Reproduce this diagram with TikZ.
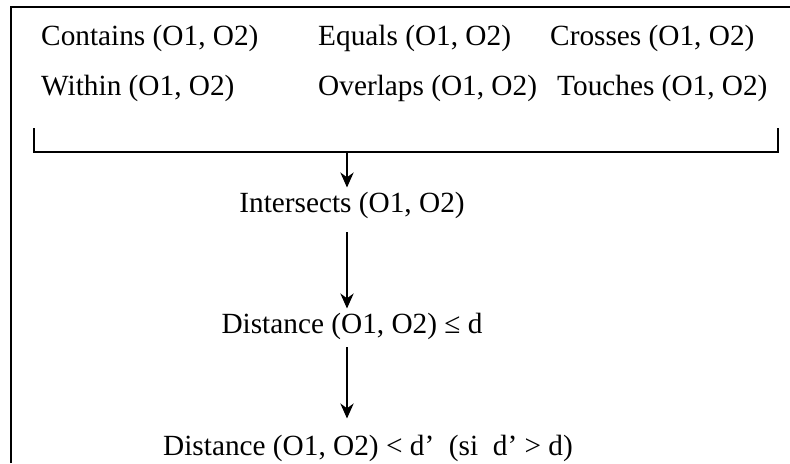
\documentclass[tikz,border=0pt]{standalone}
\usepackage{fontspec}
\setmainfont{Liberation Serif}
\usepackage{tikz}
\usetikzlibrary{positioning, calc, arrows.meta}

\begin{document}
\begin{tikzpicture}[
    x=0.03cm, y=-0.03cm,
    relbox/.style={inner sep=0pt, anchor=base west,
                   font=\fontsize{25}{30}\selectfont},
    resbox/.style={inner sep=0.12cm, anchor=base,
                   font=\fontsize{25}{30}\selectfont},
    frame/.style={line width=1.4pt},
    arrow/.style={-{Stealth[length=0.45cm, width=0.4cm]}, line width=1.4pt},
  ]
    \useasboundingbox (0,0) rectangle (790,463);

    % outer frame (top and left only)
    \draw[frame] (11,463) -- (11,7) -- (790,7);

    % topological relations
    \node[relbox] (contains) at (41,45)  {Contains (O1, O2)};
    \node[relbox] (equals)   at (318,45) {Equals (O1, O2)};
    \node[relbox] (crosses)  at (550,45) {Crosses (O1, O2)};
    \node[relbox] (within)   at (41,95)  {Within (O1, O2)};
    \node[relbox] (overlaps) at (318,95) {Overlaps (O1, O2)};
    \node[relbox] (touches)  at (557,95) {Touches (O1, O2)};

    % bracket grouping them
    \coordinate (bktL) at (34,128);
    \coordinate (bktR) at (778,128);
    \coordinate (join) at (347,152);
    \draw[frame] (bktL) -- (bktL |- join) -- (bktR |- join) -- (bktR);

    % chain of predicates
    \node[resbox] (inter) at (352,212) {Intersects (O1, O2)};
    \node[resbox] (dist)  at (352,333) {Distance (O1, O2) ≤ d};
    \node[resbox] (distd) at (368,455) {Distance (O1, O2) < d’\ \ (si\ \ d’ > d)};

    \draw[arrow] (join) -- (join |- inter.north);
    \draw[arrow, shorten <=0.3cm] (inter.south -| join) -- (join |- dist.north);
    \draw[arrow, shorten <=0.12cm, shorten >=0.36cm] (dist.south -| join) -- (join |- distd.north);
  \end{tikzpicture}
\end{document}
